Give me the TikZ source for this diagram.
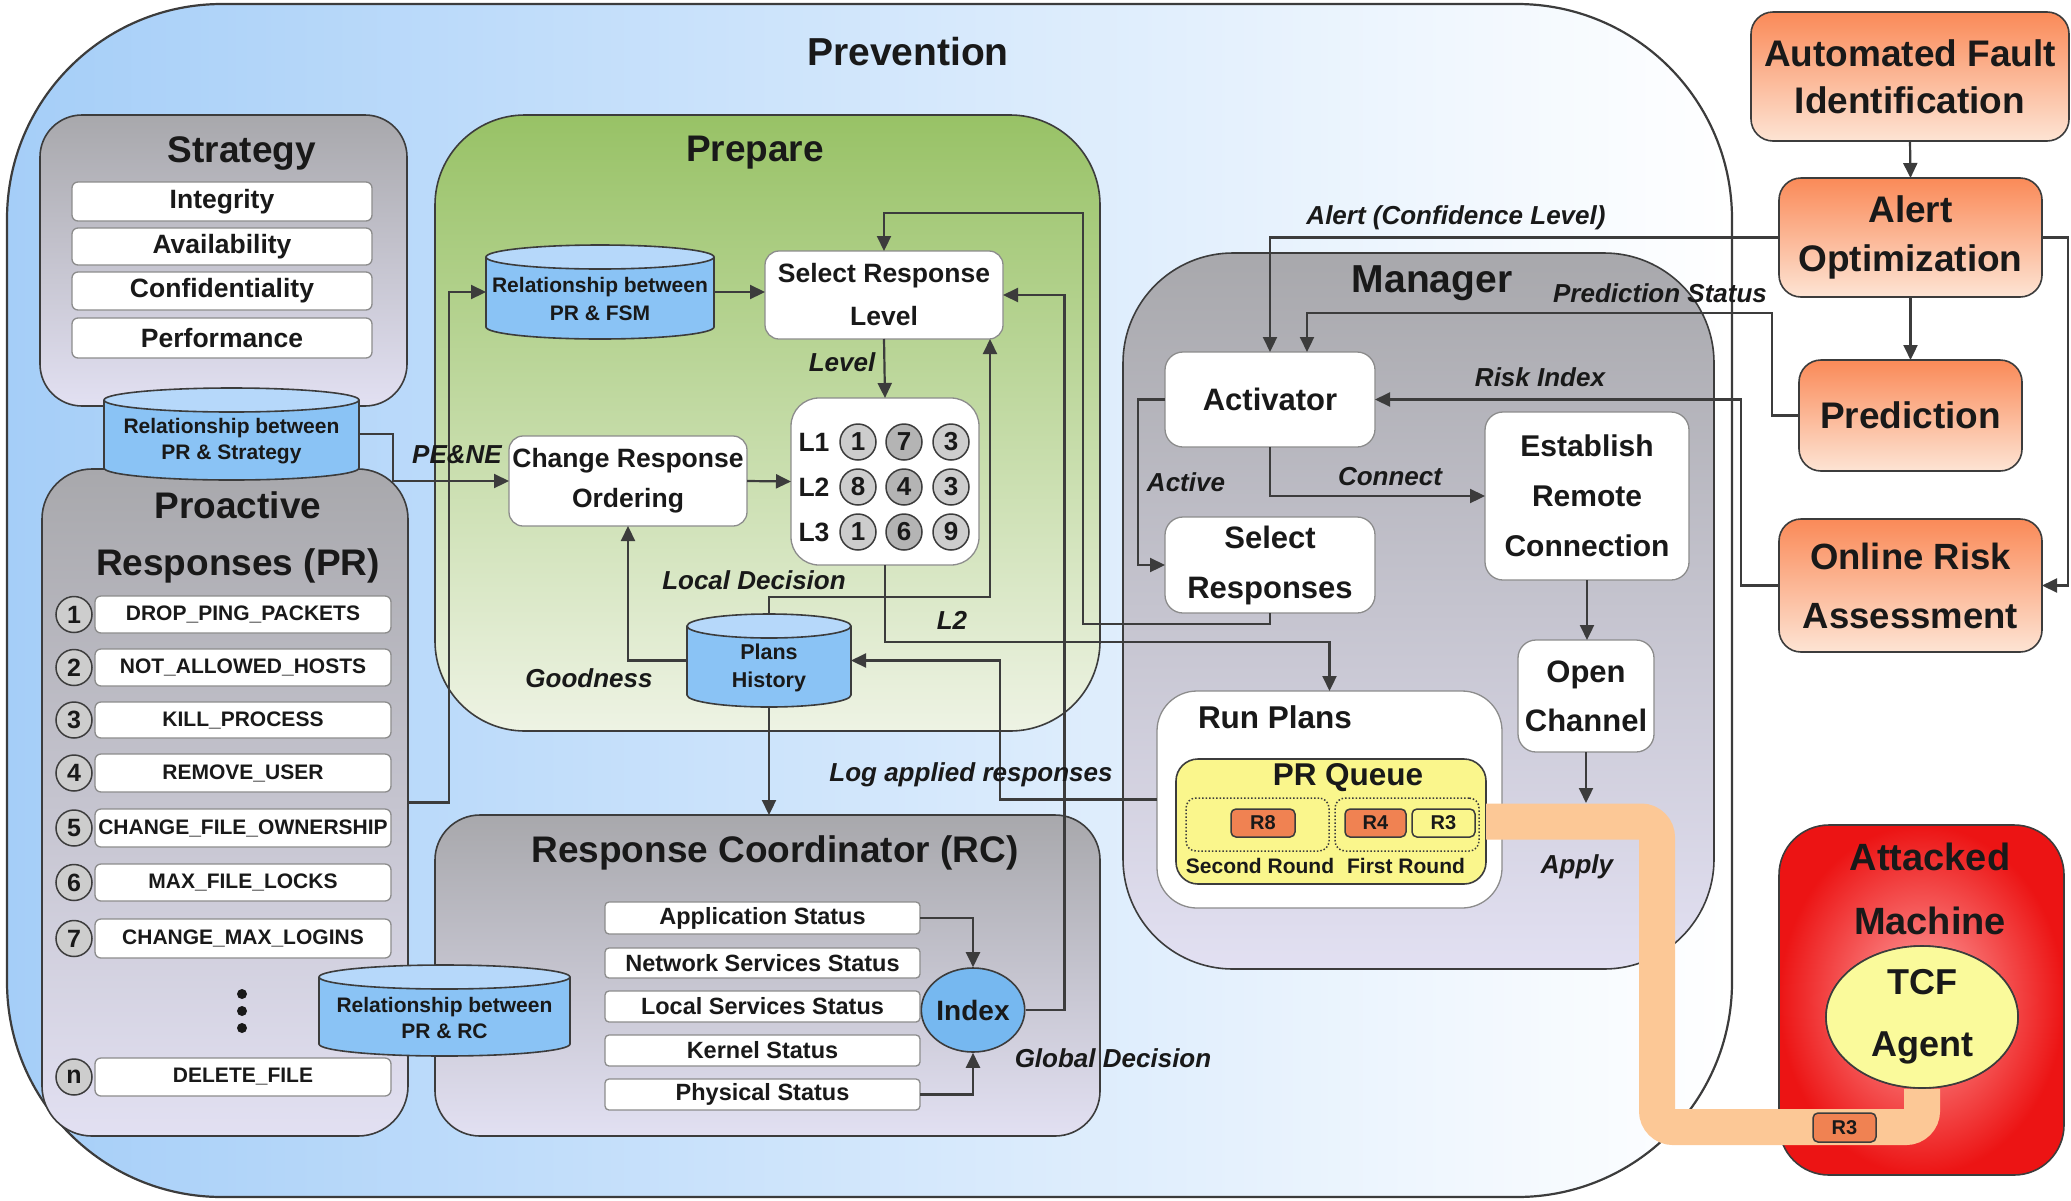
\documentclass[tikz,border=0pt]{standalone}
\usepackage{fontspec}
\setmainfont{Liberation Sans}
\usetikzlibrary{arrows.meta,shapes.geometric,calc}
\definecolor{txt}{RGB}{25,25,25}
\definecolor{linec}{RGB}{60,60,60}
\definecolor{boxline}{RGB}{140,140,140}
\definecolor{prevblue}{RGB}{165,206,248}
\definecolor{prevmid}{RGB}{222,236,252}
\definecolor{grayT}{RGB}{168,168,172}
\definecolor{grayB}{RGB}{226,224,242}
\definecolor{greenT}{RGB}{152,194,102}
\definecolor{greenB}{RGB}{238,243,228}
\definecolor{orT}{RGB}{250,138,88}
\definecolor{orB}{RGB}{253,228,212}
\definecolor{cylblue}{RGB}{138,195,245}
\definecolor{cyltop}{RGB}{182,216,250}
\definecolor{idxblue}{RGB}{118,184,240}
\definecolor{numgray}{RGB}{205,205,205}
\definecolor{numdark}{RGB}{180,180,180}
\definecolor{queueY}{RGB}{250,246,140}
\definecolor{tcfY}{RGB}{250,250,155}
\definecolor{rbox}{RGB}{240,130,82}
\definecolor{peach}{RGB}{252,200,150}
\definecolor{redO}{RGB}{236,20,20}
\definecolor{redI}{RGB}{255,165,165}
\newcommand\myfs[2]{\fontsize{#1}{#2}\selectfont}
\newcommand\mybx[7]{%
  \pgfmathsetmacro\bxcx{(#2+#4)/2}%
  \pgfmathsetmacro\bxcy{(#3+#5)/2}%
  \pgfmathsetmacro\bxw{#4-#2}%
  \pgfmathsetmacro\bxh{#5-#3}%
  \node[#6, minimum width=\bxw pt, minimum height=\bxh pt, inner sep=0pt, outer sep=0pt] (#1) at (\bxcx,\bxcy) {#7};}
\newcommand\mycyl[7]{%
  \pgfmathsetmacro\cyrx{(#4-#2)/2}%
  \pgfmathsetmacro\cycx{(#2+#4)/2}%
  \pgfmathsetmacro\cyt{#3+12}%
  \pgfmathsetmacro\cyb{#5-12}%
  \fill[cylblue] (#2,\cyt) -- (#2,\cyb) arc[start angle=180,end angle=360,x radius=\cyrx pt,y radius=12pt] -- (#4,\cyt) arc[start angle=0,end angle=180,x radius=\cyrx pt,y radius=12pt] -- cycle;
  \draw[draw=linec, line width=1.6pt] (#2,\cyt) -- (#2,\cyb) arc[start angle=180,end angle=360,x radius=\cyrx pt,y radius=12pt] -- (#4,\cyt);
  \draw[draw=linec, line width=1.6pt, fill=cyltop] (\cycx,\cyt) ellipse[x radius=\cyrx pt, y radius=12pt];
  \mybx{#1}{#2}{#3}{#4}{#5}{}{}%
  \node[align=center, text=txt, inner sep=0pt, font=#6] (#1T) at ($(#1.center)+(0,7)$) {#7};}
\begin{document}
\begin{tikzpicture}[x=1pt,y=-1pt,
  conn/.style={draw=linec, line width=2.2pt, -{Triangle[length=15pt,width=14pt]}},
  wbox/.style={draw=boxline, fill=white, line width=1.3pt, rounded corners=14pt, align=center, text=txt},
  sitem/.style={wbox, rounded corners=6pt, font=\myfs{26.5}{30}\bfseries},
  sbox/.style={wbox, rounded corners=4pt, font=\myfs{23.5}{26}\bfseries},
  mbox/.style={wbox, rounded corners=18pt, font=\myfs{31}{50}\bfseries},
  gcont/.style={draw=linec, line width=1.6pt, top color=grayT, bottom color=grayB},
  obox/.style={draw=linec, line width=1.6pt, top color=orT, bottom color=orB, rounded corners=22pt, align=center, text=txt},
  ttl/.style={font=\myfs{37}{42}\bfseries, text=txt, inner sep=0pt},
  lab/.style={font=\myfs{26}{30}\bfseries\itshape, text=txt, inner sep=0pt},
  numc/.style={circle, draw=linec, line width=1.5pt, fill=numgray, minimum size=36pt, inner sep=0pt, font=\myfs{25}{28}\bfseries, text=txt},
  rb/.style={draw=linec, line width=1.5pt, fill=rbox, rounded corners=5pt, font=\myfs{20}{22}\bfseries, text=txt},
  dotbox/.style={draw=linec, line width=1.5pt, dotted, rounded corners=10pt}
]
\useasboundingbox (0,0) rectangle (2071,1200);

% Prevention
\mybx{prev}{7}{4}{1732}{1197}{draw=linec, line width=2.2pt, rounded corners=215pt, left color=prevblue, middle color=prevmid, right color=white}{}
\node[ttl, font=\myfs{39}{44}\bfseries] (prevT) at (908,52) {Prevention};

% Strategy
\mybx{strat}{40}{115}{407}{406}{gcont, rounded corners=42pt}{}
\node[ttl] (stratT) at (242,153) {Strategy};
\mybx{integ}{72}{182}{372}{221}{sitem}{Integrity}
\mybx{avail}{72}{228}{372}{265}{sitem}{Availability}
\mybx{conf}{72}{272}{372}{310}{sitem}{Confidentiality}
\mybx{perf}{72}{318}{372}{358}{sitem}{Performance}

% Proactive responses
\mybx{proact}{42}{469}{408}{1136}{gcont, rounded corners=50pt}{}
\node[ttl, align=center, font=\myfs{37}{57}\bfseries] (proactT) at (238,537) {Proactive\\Responses (PR)};
\foreach \k/\ya/\yb/\t in {1/596/633/DROP\_PING\_PACKETS, 2/649/686/NOT\_ALLOWED\_HOSTS, 3/702/738/KILL\_PROCESS, 4/754/792/REMOVE\_USER, 5/809/847/CHANGE\_FILE\_OWNERSHIP, 6/864/901/MAX\_FILE\_LOCKS, 7/919/958/CHANGE\_MAX\_LOGINS, n/1058/1096/DELETE\_FILE}{
  \mybx{pr\k}{95}{\ya}{391}{\yb}{sitem, font=\myfs{21}{24}\bfseries}{\t}
  \node[numc] (num\k) at (74,{(\ya+\yb)/2}) {\k};
}
\foreach \yy in {994,1011,1028} \fill[txt] (242,\yy) circle[radius=5pt];

\mycyl{cylS}{104}{388}{359}{480}{\myfs{21}{26}\bfseries}{Relationship between\\PR \& Strategy}

% Prepare
\mybx{prep}{435}{115}{1100}{731}{draw=linec, line width=1.6pt, rounded corners=90pt, top color=greenT, bottom color=greenB}{}
\node[ttl] (prepT) at (755,153) {Prepare};
\mycyl{cylF}{486}{245}{714}{339}{\myfs{21}{28}\bfseries}{Relationship between\\PR \& FSM}
\mybx{srl}{765}{251}{1003}{339}{wbox, font=\myfs{26.5}{43}\bfseries}{Select Response\\Level}
\mybx{lbox}{791}{398}{979}{565}{wbox, rounded corners=28pt}{}
\mybx{cro}{509}{436}{747}{526}{wbox, font=\myfs{26.5}{40}\bfseries}{Change Response\\Ordering}
\foreach \r/\yy/\a/\b/\c in {1/442/1/7/3, 2/487/8/4/3, 3/532/1/6/9}{
  \node[font=\myfs{26.5}{28}\bfseries, text=txt, inner sep=0pt] (lab\r) at (814,\yy) {L\r};
  \node[numc, font=\myfs{26}{28}\bfseries] (l\r a) at (858,\yy) {\a};
  \node[numc, fill=numdark, font=\myfs{26}{28}\bfseries] (l\r b) at (904,\yy) {\b};
  \node[numc, font=\myfs{26}{28}\bfseries] (l\r c) at (951,\yy) {\c};
}
\mycyl{cylH}{687}{614}{851}{707}{\myfs{21.5}{28}\bfseries}{Plans\\History}

% Response Coordinator
\mybx{rc}{435}{815}{1100}{1136}{gcont, rounded corners=45pt}{}
\node[ttl] (rcT) at (775,853) {Response Coordinator (RC)};
\mybx{app}{605}{902}{920}{934}{sbox}{Application Status}
\mybx{net}{605}{948}{920}{978}{sbox}{Network Services Status}
\mybx{loc}{605}{991}{920}{1022}{sbox}{Local Services Status}
\mybx{ker}{605}{1035}{920}{1066}{sbox}{Kernel Status}
\mybx{phy}{605}{1079}{920}{1110}{sbox}{Physical Status}
\node[ellipse, draw=linec, line width=1.6pt, fill=idxblue, minimum width=80pt, minimum height=84pt, inner sep=0pt, font=\myfs{28}{30}\bfseries, text=txt] (idx) at (973,1010) {Index};
\mycyl{cylR}{319}{965}{570}{1056}{\myfs{21}{26}\bfseries}{Relationship between\\PR \& RC}

% Manager
\mybx{mgr}{1123}{253}{1714}{969}{gcont, rounded corners=110pt}{}
\node[ttl, font=\myfs{39}{44}\bfseries] (mgrT) at (1432,283) {Manager};
\mybx{act}{1165}{352}{1375}{447}{mbox}{Activator}
\mybx{selr}{1165}{517}{1375}{613}{mbox}{Select\\Responses}
\mybx{erc}{1485}{412}{1689}{580}{mbox, font=\myfs{30}{50}\bfseries}{Establish\\Remote\\Connection}
\mybx{och}{1518}{640}{1654}{752}{mbox, font=\myfs{31}{49}\bfseries}{Open\\Channel}
\mybx{runp}{1157}{691}{1502}{908}{wbox, rounded corners=40pt}{}
\node[font=\myfs{31.5}{36}\bfseries, text=txt, inner sep=0pt] (runpT) at (1275,717) {Run Plans};
\mybx{queue}{1176}{759}{1486}{884}{draw=linec, line width=1.6pt, fill=queueY, rounded corners=22pt}{}
\node[font=\myfs{31.5}{36}\bfseries, text=txt, inner sep=0pt] (queueT) at (1348,778) {PR Queue};
\mybx{secbox}{1186}{798}{1329}{851}{dotbox}{}
\mybx{firstbox}{1335}{798}{1479}{851}{dotbox}{}
\mybx{r8}{1231}{809}{1295}{837}{rb}{R8}
\mybx{r4}{1345}{809}{1406}{837}{rb}{R4}
\mybx{r3}{1412}{809}{1475}{837}{rb, fill=queueY}{R3}
\node[font=\myfs{21}{24}\bfseries, text=txt, inner sep=0pt] (secT) at (1260,866) {Second Round};
\node[font=\myfs{21}{24}\bfseries, text=txt, inner sep=0pt] (firstT) at (1406,866) {First Round};

% Right column
\mybx{afi}{1751}{12}{2069}{141}{obox, font=\myfs{37}{47}\bfseries}{Automated Fault\\Identification}
\mybx{aopt}{1779}{178}{2042}{297}{obox, font=\myfs{37}{49}\bfseries}{Alert\\Optimization}
\mybx{pred}{1799}{360}{2022}{471}{obox, font=\myfs{37}{44}\bfseries}{Prediction}
\mybx{ora}{1779}{519}{2042}{652}{obox, font=\myfs{36.5}{59}\bfseries}{Online Risk\\Assessment}

% Attacked machine
\mybx{am}{1779}{825}{2064}{1175}{draw=linec, line width=1.6pt, inner color=redI, outer color=redO, rounded corners=50pt}{}
\node[align=center, font=\myfs{38}{64}\bfseries, text=txt, inner sep=0pt] (amT) at (1930,889) {Attacked\\Machine};
\node[ellipse, draw=linec, line width=1.6pt, fill=tcfY, minimum width=192pt, minimum height=142pt, inner sep=0pt] (tcf) at (1922,1017) {};
\draw[draw=peach, line width=36pt, rounded corners=16pt] (queue.east) -| (1657,1127) -| (tcf.south);
\node[ellipse, draw=linec, line width=1.6pt, fill=tcfY, minimum width=192pt, minimum height=142pt, inner sep=0pt, align=center, font=\myfs{36}{62}\bfseries, text=txt] (tcf2) at (tcf.center) {TCF\\Agent};
\mybx{rthree}{1813}{1113}{1876}{1142}{rb}{R3}
\coordinate (applyend) at (1586,803);

% connectors
\draw[conn] (cylS.east) -- ++(34,0) |- (cro.west);
\draw[conn] (proact.east) -- ++(41,0) |- (cylF.west);
\draw[conn] (cylF.east) -- (cylF.east -| srl.west);
\draw[conn] (srl.south) -- (lbox.north);
\draw[conn] (cro.east) -- (lbox.west);
\draw[conn] (lbox.south) -- ++(0,77) -| (runp.north);
\draw[conn] (selr.south) -- ++(0,11) -| (1083,213) -| (srl.north);
\draw[conn] (idx.east) -- ++(39,0) |- (srl.east);
\draw[conn] (cylH.north) -- ++(0,-17) -| ([xshift=106pt]srl.south);
\draw[conn] (cylH.west) -| (cro.south);
\draw[conn] (runp.west) -- ++(-157,0) |- (cylH.east);
\draw[conn] (cylH.south) -- (cylH.south |- rc.north);
\draw[conn] (app.east) -| (idx.north);
\draw[conn] (phy.east) -| (idx.south);
\draw[conn] (act.west) -- ++(-27,0) |- (selr.west);
\draw[conn] (act.south) |- (erc.west);
\draw[conn] (erc.south) -- (erc.south |- och.north);
\draw[conn] (och.south) -- (applyend);
\draw[conn] (ora.west) -- ++(-38,0) |- (act.east);
\draw[conn] (pred.west) -- ++(-27,0) |- (1307,313) -- ([xshift=37pt]act.north);
\draw[conn] (aopt.west) -| (act.north);
\draw[conn] (aopt.east) -- ++(26,0) |- (ora.east);
\draw[conn] (afi.south) -- (aopt.north);
\draw[conn] (aopt.south) -- (pred.north);

% labels
\node[lab] at (1456,218) {Alert (Confidence Level)};
\node[lab] at (1660,293) {Prediction Status};
\node[lab] at (1540,377) {Risk Index};
\node[lab] at (1186,482) {Active};
\node[lab] at (1390,477) {Connect};
\node[lab] at (842,362) {Level};
\node[lab] at (457,455) {PE\&NE};
\node[lab] at (754,580) {Local Decision};
\node[lab] at (952,620) {L2};
\node[lab] at (589,678) {Goodness};
\node[lab] at (971,775) {Log applied responses};
\node[lab] at (1113,1058) {Global Decision};
\node[lab] at (1577,867) {Apply};
\end{tikzpicture}
\end{document}
